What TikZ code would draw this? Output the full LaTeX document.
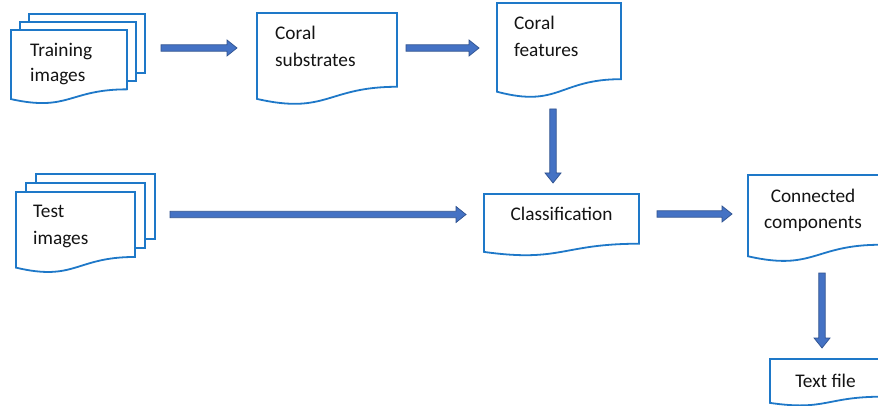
\documentclass[tikz,border=0pt]{standalone}
\usepackage{fontspec}
\setmainfont{Carlito}
\usetikzlibrary{calc}
\definecolor{docblue}{RGB}{30,120,200}
\definecolor{arrfill}{RGB}{68,114,196}
\definecolor{arredge}{RGB}{47,82,143}
\definecolor{txtcol}{RGB}{20,20,20}
% document shape: x0, y0, w, h (pixel units, y downwards)
\newcommand{\docshape}[4]{%
  \draw[docline] (#1,#2) -- ({#1+#3},#2) -- ({#1+#3},{#2+0.802*#4})
    .. controls ({#1+0.5*#3},{#2+0.802*#4}) and ({#1+0.5*#3},{#2+1.1075*#4}) ..
    (#1,{#2+0.934*#4}) -- cycle;}
% multi-document: x0, y0, w, h, dx, dy
\newcommand{\multidoc}[6]{%
  \docshape{#1}{#2}{#3}{#4}%
  \draw[docline] ({#1+#5},#2) -- ({#1+#5},{#2-#6}) -- ({#1+#3+#5},{#2-#6})
    -- ({#1+#3+#5},{#2+0.802*#4-#6}) -- ({#1+#3},{#2+0.802*#4-#6});
  \draw[docline] ({#1+2*#5},{#2-#6}) -- ({#1+2*#5},{#2-2*#6}) -- ({#1+#3+2*#5},{#2-2*#6})
    -- ({#1+#3+2*#5},{#2+0.802*#4-2*#6}) -- ({#1+#3+#5},{#2+0.802*#4-2*#6});}
% block arrow between two named coordinates
\newcommand{\blockarrow}[2]{%
  \coordinate (hb) at ($(#2)!10pt!(#1)$);
  \filldraw[barrow]
    ($(#1)!3.2pt!90:(#2)$) -- ($(hb)!3.2pt!-90:(#1)$) -- ($(hb)!8pt!-90:(#1)$)
    -- (#2) -- ($(hb)!8pt!90:(#1)$) -- ($(hb)!3.2pt!90:(#1)$)
    -- ($(#1)!3.2pt!-90:(#2)$) -- cycle;}
\begin{document}
\begin{tikzpicture}[x=1pt,y=-1pt,
  docline/.style={draw=docblue,line width=1.8pt,line join=miter},
  barrow/.style={fill=arrfill,draw=arredge,line width=0.7pt,line join=miter},
  lbl/.style={inner sep=0pt,text=txtcol,font=\fontsize{19.3}{26}\selectfont}]
\useasboundingbox (0,0) rectangle (878,406);
\fill[white] (0,0) rectangle (878,406);

% shapes
\multidoc{11}{30}{116}{74}{9}{8}
\docshape{257}{13}{140}{92}
\docshape{497}{3}{124}{95}
\multidoc{16}{192}{119}{81}{10}{9}
\docshape{484}{194}{155}{62}
\docshape{748}{175}{132}{87}
\docshape{770}{359}{112}{47}

% texts
\node[lbl,anchor=base west] (train) at (30,57) {\vtop{\baselineskip=25pt\hbox{Training}\hbox{images}}};
\node[lbl,anchor=base west] (subs) at (275,40) {\vtop{\baselineskip=27pt\hbox{Coral}\hbox{substrates}}};
\node[lbl,anchor=base west] (feat) at (514,30) {\vtop{\baselineskip=27pt\hbox{Coral}\hbox{features}}};
\node[lbl,anchor=base west] (test) at (33,218) {\vtop{\baselineskip=27pt\hbox{Test}\hbox{images}}};
\node[lbl,anchor=base] (class) at (561.5,221) {Classification};
\node[lbl,anchor=base] (conn) at (813,203) {\vtop{\baselineskip=26pt\halign{\hfil#\hfil\cr Connected\cr components\cr}}};
\node[lbl,anchor=base] (textf) at (825.5,387) {Text file};

% arrow end points
\coordinate (a1s) at (161,48);   \coordinate (a1e) at (237,48);
\coordinate (a2s) at (406,48);   \coordinate (a2e) at (479,48);
\coordinate (a3s) at (553,109);  \coordinate (a3e) at (553,183);
\coordinate (a4s) at (170,214.5);\coordinate (a4e) at (466,214.5);
\coordinate (a5s) at (657,214);  \coordinate (a5e) at (732,214);
\coordinate (a6s) at (822,273);  \coordinate (a6e) at (822,348);

\blockarrow{a1s}{a1e}
\blockarrow{a2s}{a2e}
\blockarrow{a3s}{a3e}
\blockarrow{a4s}{a4e}
\blockarrow{a5s}{a5e}
\blockarrow{a6s}{a6e}
\end{tikzpicture}
\end{document}
